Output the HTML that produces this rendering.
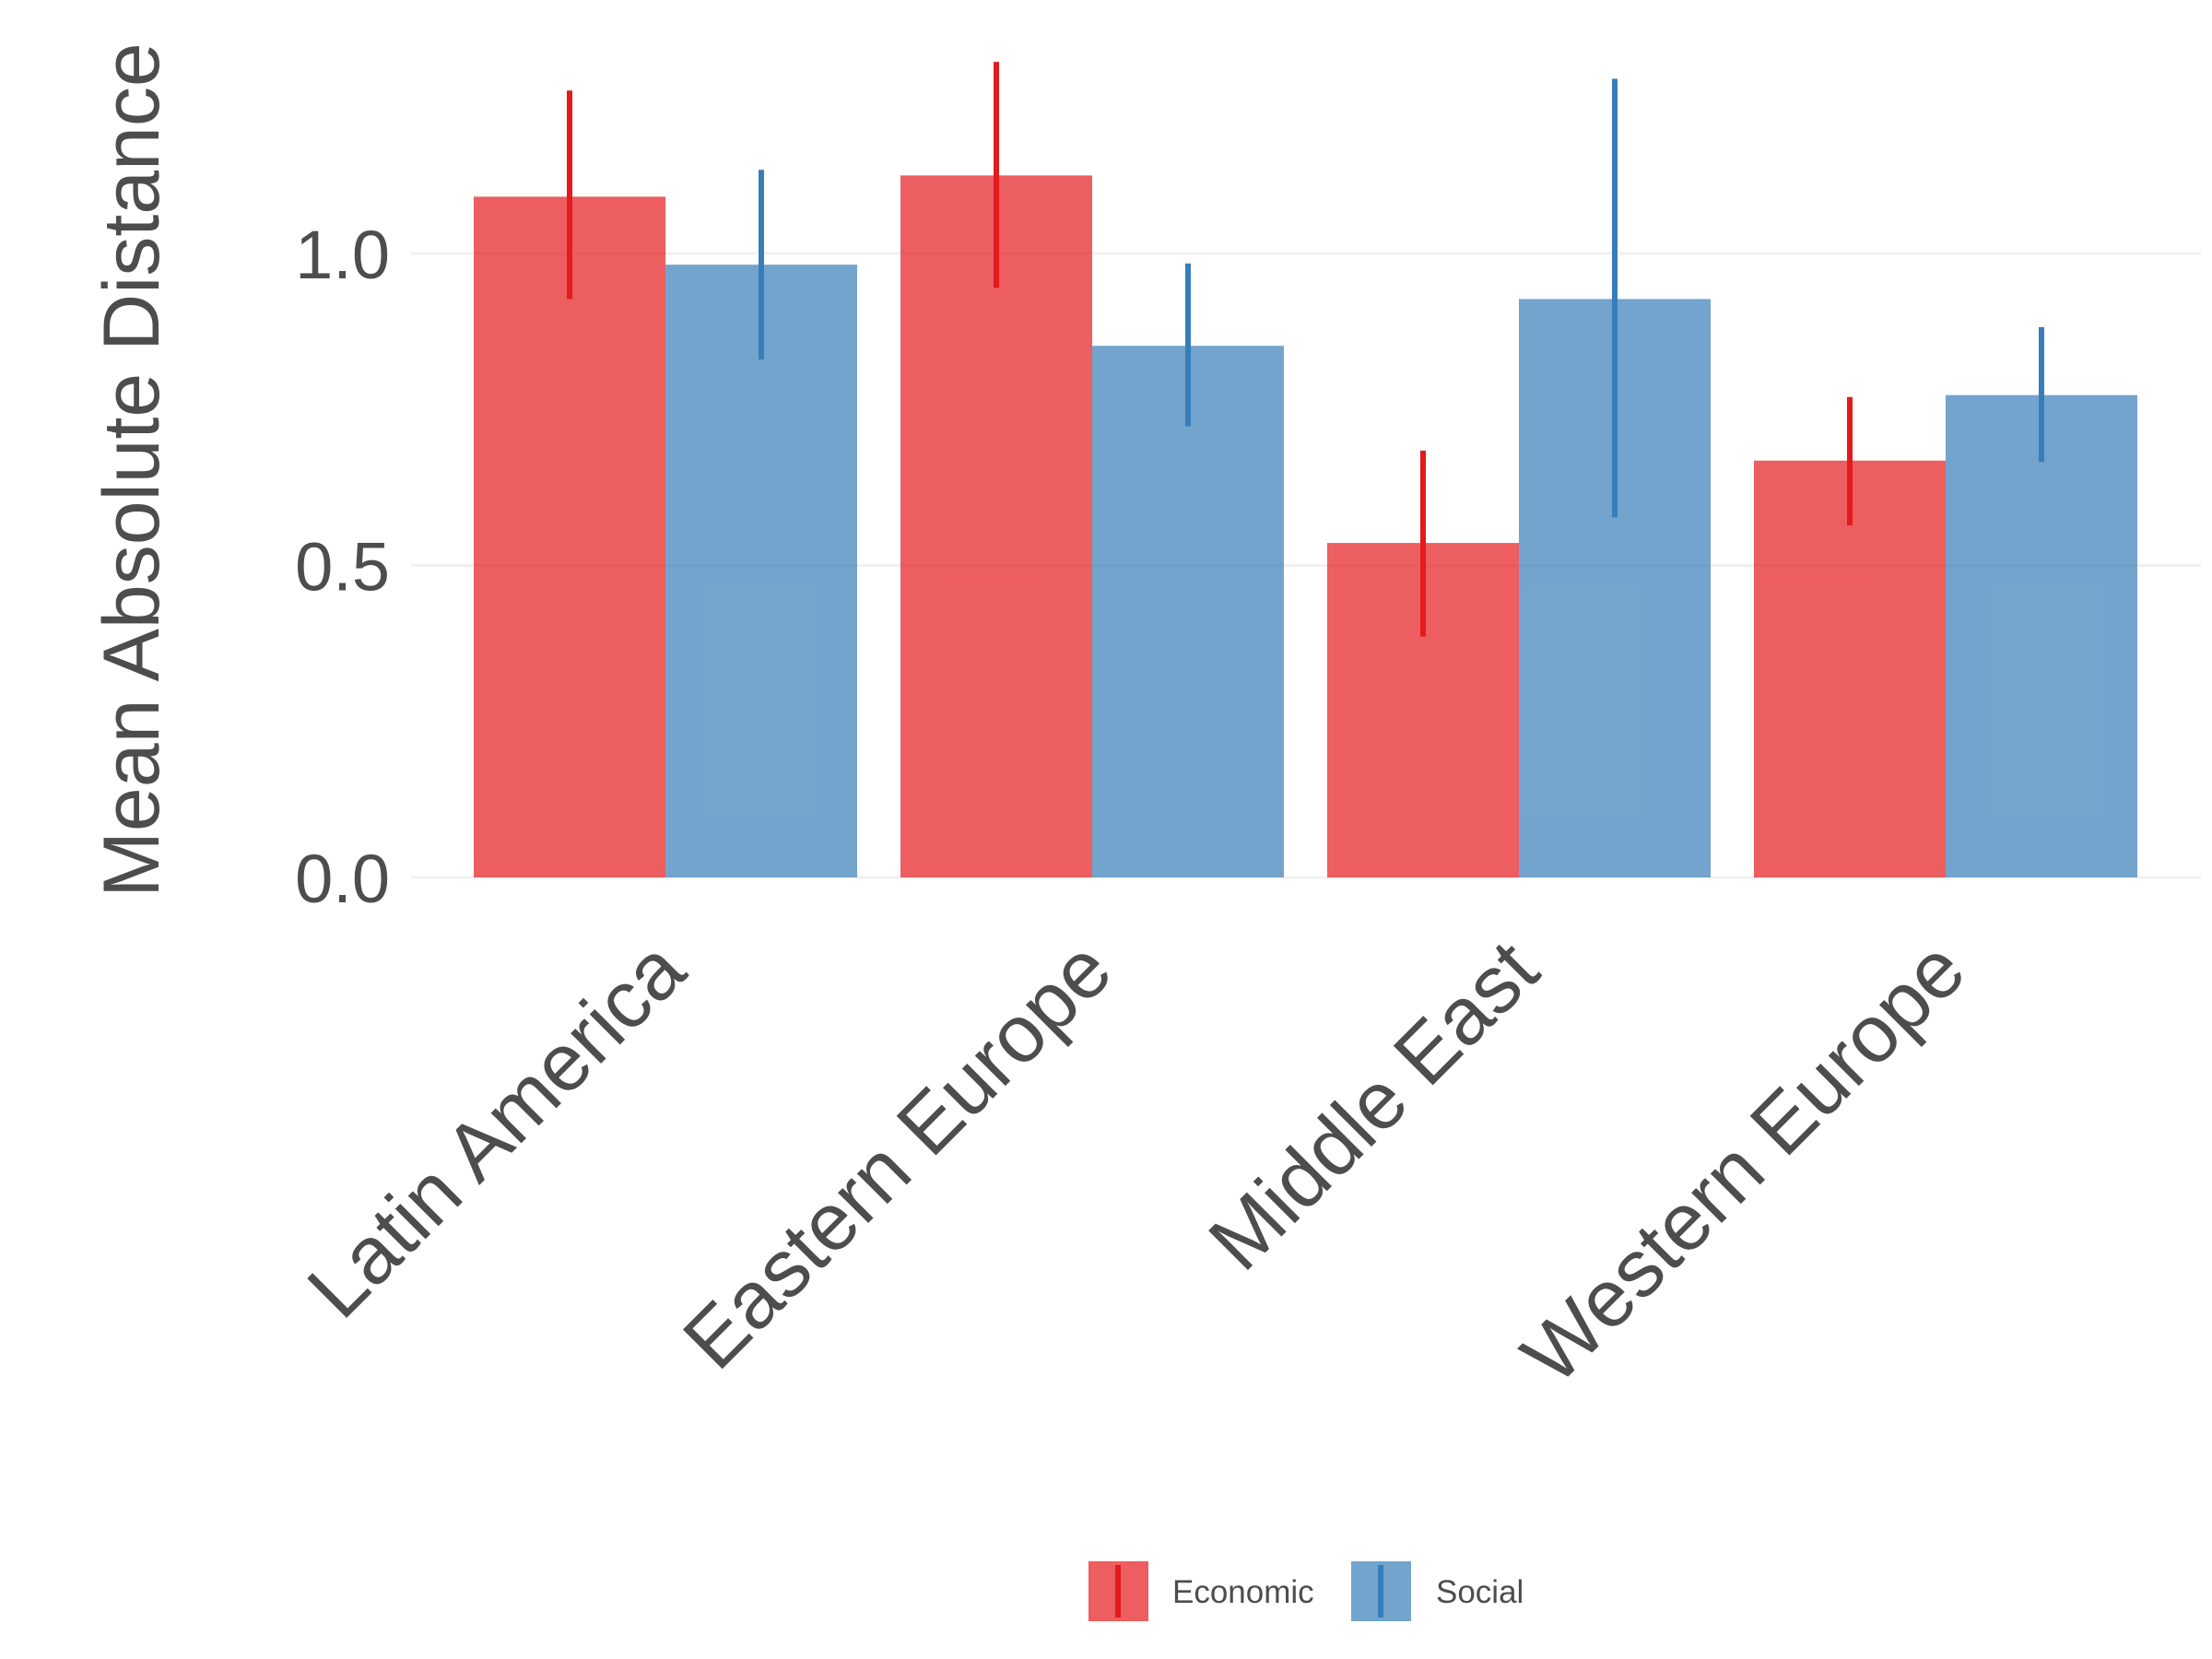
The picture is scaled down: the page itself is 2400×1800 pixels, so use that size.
<!DOCTYPE html>
<html><head><meta charset="utf-8"><style>
html,body{margin:0;padding:0;background:#fff;}
svg{display:block;font-family:"Liberation Sans",sans-serif;}
</style></head><body>
<svg id="chart" width="2400" height="1800" viewBox="0 0 2400 1800" xmlns="http://www.w3.org/2000/svg">
<g id="grid"></g>
<g id="yticks"></g>
<g id="bars"></g>
<g id="xlabels"></g>
<text transform="translate(172,510) rotate(-90)" text-anchor="middle" font-size="86" fill="#4d4d4d">Mean Absolute Distance</text>
<g>
  <g>
    <rect x="1181" y="1694" width="65" height="65" fill="#E41A1C" fill-opacity="0.7"/>
    <rect x="1210" y="1698" width="6" height="57" fill="#E41A1C"/>
    <text x="1272" y="1739" font-size="35" fill="#4d4d4d">Economic</text>
  </g>
  <g>
    <rect x="1466" y="1694" width="65" height="65" fill="#377EB8" fill-opacity="0.7"/>
    <rect x="1495" y="1698" width="6" height="57" fill="#377EB8"/>
    <text x="1558" y="1739" font-size="35" fill="#4d4d4d">Social</text>
  </g>
</g>
</svg>
<script>
const categories = ["Latin America","Eastern Europe","Middle East","Western Europe"];
const economic = [1.091,1.125,0.536,0.668];
const economicLow = [0.927,0.945,0.386,0.564];
const economicHigh = [1.261,1.307,0.684,0.770];
const social = [0.982,0.852,0.927,0.773];
const socialLow = [0.830,0.723,0.577,0.666];
const socialHigh = [1.134,0.984,1.280,0.882];
const yTicks = [0,0.5,1.0];
const yTickLabels = ["0.0","0.5","1.0"];

const NS="http://www.w3.org/2000/svg";
const y = v => 952 - v*677;
const groupX = i => 514 + i*463;
const barW = 208;
function mk(tag, attrs, parent){const e=document.createElementNS(NS,tag);for(const k in attrs)e.setAttribute(k,attrs[k]);parent.appendChild(e);return e;}
const grid=document.getElementById('grid'), yt=document.getElementById('yticks'), bars=document.getElementById('bars'), xl=document.getElementById('xlabels');
yTicks.forEach((t,i)=>{
  const l=mk('line',{x1:446,x2:2388,y1:y(t),y2:y(t),stroke:'#f0f0f0','stroke-width':3},grid);
  
  
  const tx=mk('text',{x:423,y:y(t)+27,'text-anchor':'end','font-size':74,fill:'#4d4d4d'},yt);
  tx.textContent=yTickLabels[i];
  
  
});
const series=[{v:economic,lo:economicLow,hi:economicHigh,c:'#E41A1C',n:'economic'},{v:social,lo:socialLow,hi:socialHigh,c:'#377EB8',n:'social'}];
categories.forEach((cat,i)=>{
  series.forEach((s,j)=>{
    const x0=groupX(i)+j*barW;
    const r=mk('rect',{x:x0,y:y(s.v[i]),width:barW,height:y(0)-y(s.v[i]),fill:s.c,'fill-opacity':0.7},bars);
    
    
    const e=mk('line',{x1:x0+barW/2,x2:x0+barW/2,y1:y(s.hi[i]),y2:y(s.lo[i]),stroke:s.c,'stroke-width':6},bars);
    
    
  });
  const cx=groupX(i)+barW+26, cy=1058;
  const t=mk('text',{transform:`translate(${cx},${cy}) rotate(-45)`,'text-anchor':'end','font-size':88,fill:'#4d4d4d'},xl);
  t.textContent=cat;
  
  
});
</script>
</body></html>
